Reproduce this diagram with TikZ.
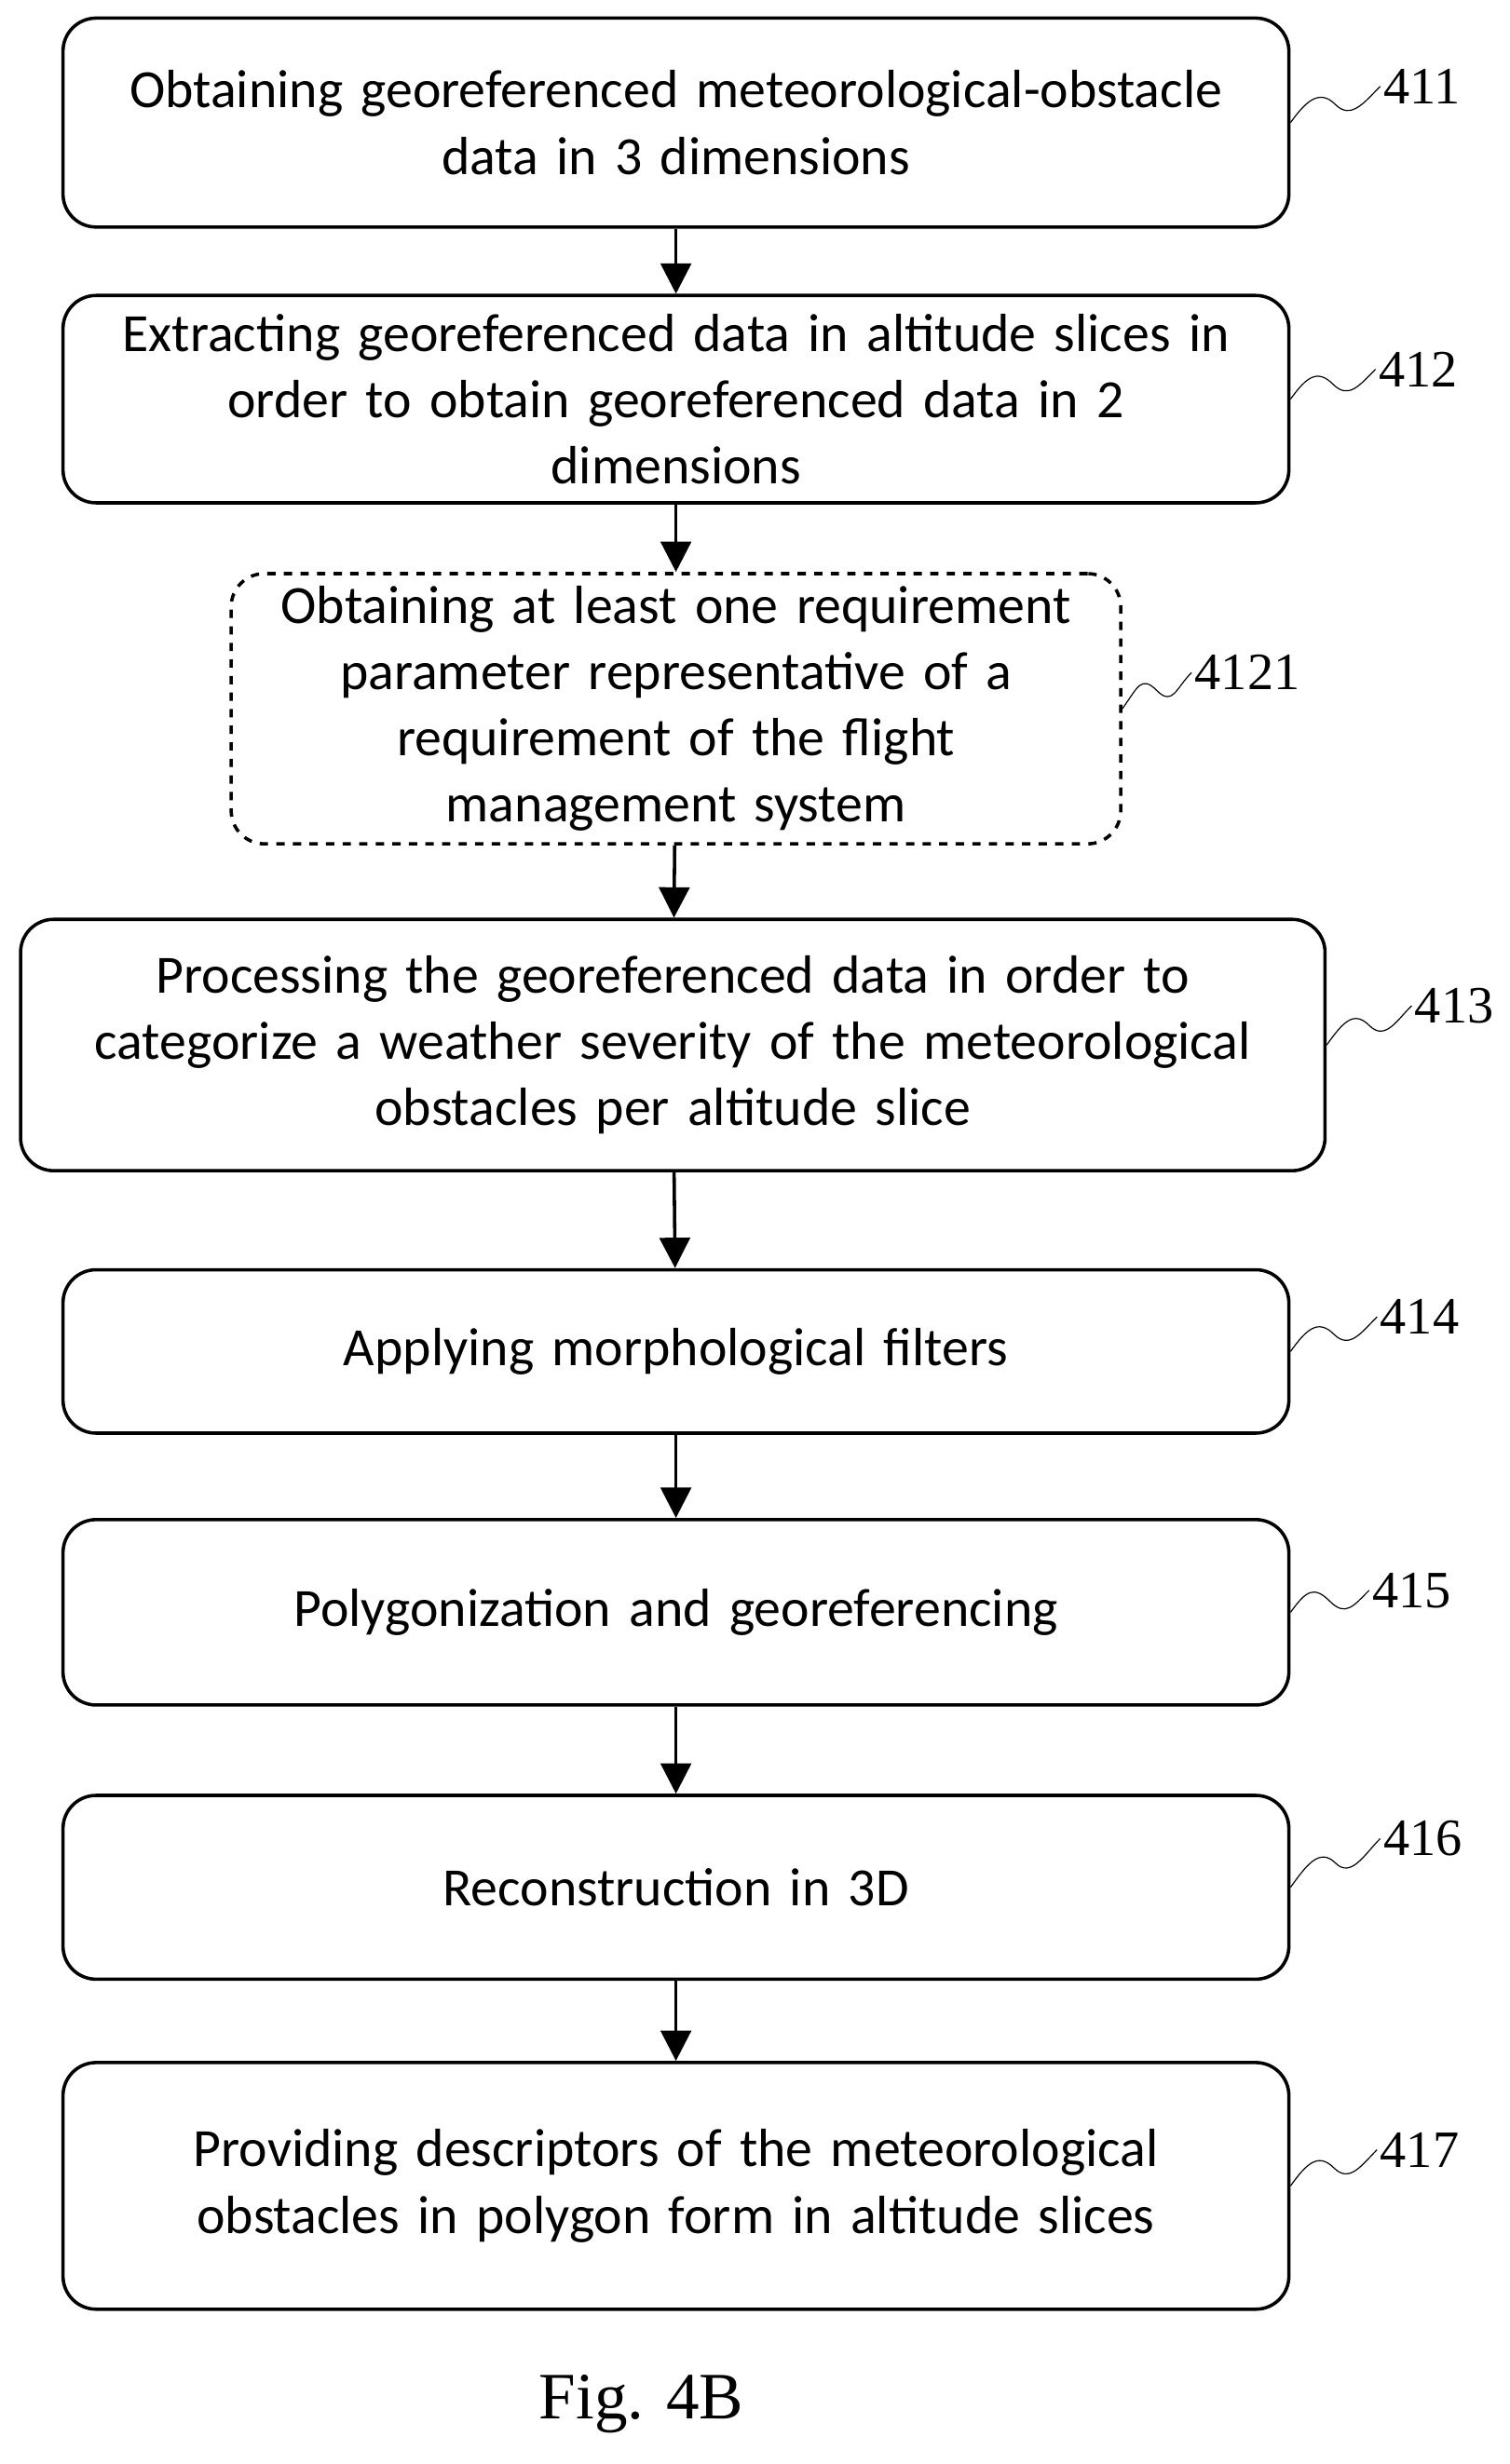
\documentclass[tikz,border=0pt]{standalone}
\usepackage{fontspec}
\setmainfont{Carlito}
\newfontfamily\labfont{Liberation Serif}
\usetikzlibrary{calc, arrows.meta}

\tikzset{
  stage/.style={draw, line width=1.2pt, rounded corners=12pt, align=center, text width=15cm,
    font=\fontsize{19.5}{24}\selectfont, inner sep=0pt},
  opt/.style={stage, dashed, text width=11cm},
  num/.style={anchor=west, font=\labfont\fontsize{19}{22}\selectfont, inner sep=1pt},
  flow/.style={-{Triangle[length=11pt,width=11pt]}, line width=1.2pt},
  squig/.style={thin}
}

\begin{document}
\begin{tikzpicture}[x=0.02cm, y=-0.02cm]
  \useasboundingbox (0,0) rectangle (960,1568);

  % steps of the method
  \node[stage, minimum width=15.6cm, minimum height=2.66cm] (s411) at (430,78)
    {Obtaining georeferenced meteorological-obstacle\\data in 3 dimensions};
  \node[stage, minimum width=15.6cm, minimum height=2.64cm] (s412) at (430,254)
    {Extracting georeferenced data in altitude slices in\\order to obtain georeferenced data in 2\\dimensions};
  \node[opt, minimum width=11.32cm, minimum height=3.44cm] (s4121) at (430,451)
    {Obtaining at least one requirement\\parameter representative of a\\requirement of the flight\\management system};
  \node[stage, text width=16cm, minimum width=16.6cm, minimum height=3.2cm] (s413) at (428,665)
    {Processing the georeferenced data in order to\\categorize a weather severity of the meteorological\\obstacles per altitude slice};
  \node[stage, minimum width=15.6cm, minimum height=2.08cm] (s414) at (430,860)
    {Applying morphological filters};
  \node[stage, minimum width=15.6cm, minimum height=2.36cm] (s415) at (430,1026)
    {Polygonization and georeferencing};
  \node[stage, minimum width=15.6cm, minimum height=2.34cm] (s416) at (430,1201)
    {Reconstruction in 3D};
  \node[stage, minimum width=15.6cm, minimum height=3.14cm] (s417) at (430,1391)
    {Providing descriptors of the meteorological\\obstacles in polygon form in altitude slices};

  % reference numerals
  \node[num] (l411) at (878,55) {411};
  \node[num] (l412) at (875,235) {412};
  \node[num] (l4121) at (758,428) {4121};
  \node[num] (l413) at (898,640) {413};
  \node[num] (l414) at (876,838) {414};
  \node[num] (l415) at (871,1012) {415};
  \node[num] (l416) at (878,1170) {416};
  \node[num] (l417) at (876,1368) {417};

  \foreach \n in {411,412,4121,413,414,415,416,417}
    \draw[squig] (s\n.east) .. controls +(10,-14) and +(-10,-10) ..
      ($(s\n.east)!0.5!(l\n.west)$) .. controls +(10,10) and +(-10,10) .. (l\n.west);

  % arrows
  \draw[flow] (s411) -- (s412);
  \draw[flow] (s412) -- (s4121);
  \draw[flow] (s4121) -- (s413);
  \draw[flow] (s413) -- (s414);
  \draw[flow] (s414) -- (s415);
  \draw[flow] (s415) -- (s416);
  \draw[flow] (s416) -- (s417);

  \node[font=\labfont\fontsize{24}{28}\selectfont] (fig) at (408,1530) {Fig. 4B};
\end{tikzpicture}
\end{document}
